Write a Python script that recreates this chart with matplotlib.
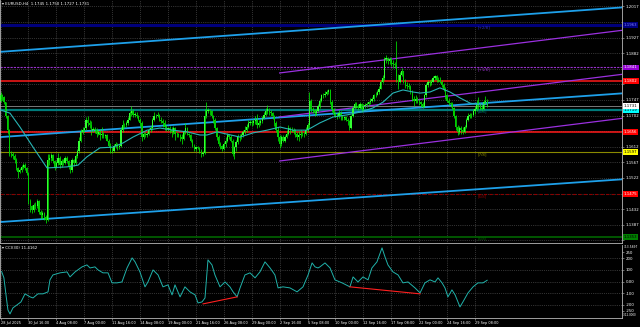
import numpy as np
import matplotlib.pyplot as plt
from matplotlib import transforms

# EURUSD H4, prices as pips: 1745 -> 1.1745
first_open = 1745
closes = [
    1760, 1755, 1740, 1700, 1660, 1590,  # 28 Jul
    1592, 1585, 1575, 1550, 1540, 1546,
    1555, 1560, 1550, 1535, 1455, 1440,
    1430, 1445, 1440, 1455, 1425, 1415,
    1420, 1410, 1400, 1575, 1580, 1587,  # 1 Aug
    1570, 1555, 1565, 1580, 1560, 1572,
    1565, 1580, 1570, 1555, 1545, 1575,
    1565, 1585, 1600, 1630, 1655, 1660,
    1665, 1690, 1680, 1675, 1660, 1663,
    1660, 1650, 1655, 1645, 1650, 1642,  # 8 Aug
    1645, 1630, 1615, 1605, 1600, 1615,
    1620, 1610, 1615, 1660, 1675, 1674,
    1680, 1690, 1710, 1715, 1705, 1705,
    1700, 1690, 1680, 1640, 1650, 1646,
    1650, 1660, 1665, 1690, 1700, 1700,  # 15 Aug
    1705, 1690, 1685, 1680, 1670, 1663,
    1665, 1660, 1655, 1665, 1650, 1649,
    1645, 1640, 1635, 1655, 1665, 1649,
    1645, 1630, 1615, 1605, 1610, 1609,
    1600, 1590, 1595, 1700, 1715, 1718,  # 22 Aug
    1715, 1700, 1690, 1665, 1640, 1620,
    1615, 1605, 1620, 1630, 1645, 1641,
    1630, 1590, 1610, 1625, 1640, 1640,
    1645, 1655, 1660, 1670, 1680, 1683,
    1680, 1685, 1690, 1675, 1680, 1686,  # 29 Aug
    1695, 1705, 1715, 1720, 1712, 1710,
    1700, 1680, 1660, 1640, 1620, 1640,
    1630, 1640, 1650, 1665, 1660, 1660,
    1655, 1650, 1640, 1645, 1650, 1648,
    1650, 1660, 1675, 1745, 1720, 1717,  # 5 Sep
    1710, 1715, 1730, 1745, 1760, 1761,
    1765, 1770, 1775, 1740, 1720, 1708,
    1705, 1700, 1710, 1700, 1695, 1697,
    1690, 1685, 1665, 1700, 1725, 1735,
    1730, 1725, 1735, 1720, 1730, 1733,  # 12 Sep
    1735, 1740, 1745, 1750, 1760, 1762,
    1770, 1780, 1800, 1810, 1865, 1867,
    1860, 1865, 1855, 1850, 1848, 1815,
    1800, 1820, 1830, 1800, 1790, 1786,
    1785, 1770, 1750, 1745, 1750, 1745,  # 19 Sep
    1740, 1735, 1728, 1760, 1790, 1800,
    1795, 1800, 1810, 1815, 1805, 1805,
    1800, 1790, 1780, 1760, 1745, 1738,
    1735, 1725, 1700, 1670, 1655, 1665,
    1660, 1655, 1670, 1690, 1700, 1703,  # 26 Sep
    1705, 1715, 1720, 1735, 1730, 1725,
    1720, 1740, 1745, 1731,
]
highs = [
    1771, 1765, 1758, 1742, 1705, 1662,
    1600, 1598, 1590, 1580, 1555, 1552,
    1560, 1566, 1565, 1555, 1540, 1462,
    1445, 1450, 1452, 1462, 1458, 1430,
    1428, 1425, 1415, 1590, 1592, 1595,
    1590, 1575, 1570, 1594, 1585, 1578,
    1578, 1585, 1584, 1575, 1562, 1580,
    1578, 1590, 1605, 1640, 1662, 1668,
    1670, 1698, 1700, 1688, 1685, 1670,
    1668, 1665, 1660, 1662, 1668, 1655,
    1650, 1648, 1635, 1622, 1612, 1620,
    1625, 1622, 1620, 1670, 1690, 1680,
    1685, 1698, 1715, 1730, 1722, 1712,
    1712, 1705, 1695, 1685, 1655, 1655,
    1655, 1665, 1672, 1695, 1712, 1706,
    1712, 1708, 1698, 1692, 1688, 1675,
    1670, 1672, 1668, 1672, 1668, 1655,
    1652, 1650, 1648, 1660, 1680, 1668,
    1652, 1650, 1635, 1620, 1615, 1615,
    1612, 1605, 1600, 1720, 1742, 1725,
    1722, 1718, 1705, 1695, 1670, 1645,
    1625, 1618, 1625, 1640, 1652, 1650,
    1645, 1635, 1615, 1632, 1648, 1648,
    1652, 1660, 1672, 1678, 1690, 1690,
    1690, 1692, 1700, 1708, 1690, 1692,
    1700, 1712, 1725, 1733, 1725, 1718,
    1712, 1705, 1685, 1668, 1645, 1645,
    1645, 1645, 1660, 1675, 1670, 1668,
    1665, 1662, 1655, 1658, 1660, 1655,
    1655, 1668, 1680, 1770, 1750, 1728,
    1722, 1722, 1735, 1752, 1765, 1768,
    1772, 1776, 1780, 1778, 1748, 1725,
    1712, 1710, 1718, 1715, 1705, 1702,
    1700, 1695, 1690, 1705, 1730, 1740,
    1740, 1735, 1741, 1738, 1735, 1738,
    1740, 1745, 1752, 1756, 1765, 1770,
    1775, 1788, 1805, 1820, 1872, 1878,
    1870, 1870, 1868, 1862, 1858, 1918,
    1822, 1828, 1840, 1832, 1808, 1798,
    1795, 1790, 1775, 1758, 1760, 1755,
    1750, 1745, 1740, 1765, 1795, 1805,
    1805, 1808, 1815, 1820, 1818, 1812,
    1812, 1805, 1795, 1785, 1765, 1752,
    1742, 1740, 1728, 1705, 1675, 1672,
    1672, 1668, 1675, 1695, 1710, 1710,
    1710, 1720, 1730, 1748, 1755, 1738,
    1735, 1748, 1758, 1750,
]
lows = [
    1742, 1748, 1735, 1695, 1650, 1585,
    1582, 1578, 1565, 1545, 1522, 1535,
    1540, 1548, 1545, 1530, 1448, 1425,
    1420, 1425, 1432, 1435, 1418, 1405,
    1405, 1400, 1391, 1398, 1560, 1570,
    1565, 1545, 1550, 1560, 1552, 1555,
    1560, 1562, 1565, 1548, 1536, 1540,
    1558, 1560, 1580, 1595, 1625, 1650,
    1655, 1660, 1672, 1665, 1645, 1655,
    1652, 1640, 1645, 1632, 1638, 1638,
    1638, 1628, 1610, 1595, 1594, 1598,
    1608, 1604, 1606, 1612, 1655, 1665,
    1668, 1675, 1688, 1700, 1698, 1698,
    1695, 1685, 1672, 1630, 1635, 1640,
    1640, 1645, 1655, 1660, 1685, 1695,
    1698, 1685, 1680, 1668, 1660, 1658,
    1658, 1652, 1640, 1650, 1632, 1640,
    1640, 1630, 1620, 1632, 1650, 1645,
    1640, 1625, 1610, 1600, 1600, 1605,
    1595, 1583, 1586, 1592, 1695, 1710,
    1705, 1695, 1680, 1660, 1632, 1615,
    1605, 1600, 1602, 1612, 1625, 1635,
    1625, 1585, 1577, 1600, 1620, 1630,
    1635, 1640, 1648, 1655, 1665, 1675,
    1672, 1675, 1678, 1665, 1668, 1675,
    1682, 1692, 1700, 1708, 1705, 1702,
    1692, 1672, 1655, 1630, 1609, 1615,
    1625, 1625, 1638, 1645, 1650, 1655,
    1650, 1640, 1632, 1630, 1638, 1642,
    1640, 1645, 1655, 1665, 1712, 1710,
    1700, 1705, 1712, 1725, 1740, 1752,
    1755, 1760, 1765, 1735, 1712, 1700,
    1698, 1692, 1695, 1690, 1688, 1690,
    1685, 1675, 1660, 1662, 1698, 1720,
    1725, 1718, 1720, 1712, 1715, 1725,
    1728, 1730, 1736, 1740, 1745, 1755,
    1760, 1765, 1778, 1795, 1805, 1855,
    1850, 1852, 1845, 1840, 1838, 1800,
    1778, 1795, 1815, 1795, 1782, 1780,
    1778, 1765, 1745, 1730, 1738, 1738,
    1732, 1728, 1725, 1726, 1755, 1785,
    1788, 1790, 1798, 1805, 1798, 1800,
    1795, 1785, 1772, 1750, 1740, 1732,
    1728, 1720, 1695, 1660, 1646, 1650,
    1650, 1648, 1652, 1665, 1685, 1695,
    1695, 1700, 1708, 1715, 1722, 1718,
    1715, 1718, 1735, 1727,
]

# moving average (bar index, price)
ma_bar = [0, 5.4, 11.1, 18.6, 26.6, 38.1, 44.4, 49.5, 57, 64.5, 70.2, 75.9, 84, 91.4, 98.9,
          106.9, 114.3, 118.3, 124.1, 137.3, 144.7, 152.8, 160.2, 167.7, 175.7, 183.1,
          190.6, 198.6, 206.1, 213.5, 219.3, 225, 230.7, 236.5, 240.5, 246.2, 251.9,
          257.7, 263.4, 269.2, 274.9, 279]
ma_price = [1.1718, 1.1709, 1.1669, 1.1611, 1.1551, 1.1554, 1.1559, 1.1583, 1.1609, 1.1611,
            1.1623, 1.1640, 1.1660, 1.1666, 1.1660, 1.1655, 1.1646, 1.1646, 1.1655, 1.1640,
            1.1652, 1.1660, 1.1669, 1.1660, 1.1660, 1.1681, 1.1698, 1.1704, 1.1712, 1.1724,
            1.1741, 1.1767, 1.1776, 1.1770, 1.1767, 1.1770, 1.1782, 1.1770, 1.1753, 1.1738,
            1.1733, 1.1735]

# CCI(30)
cci_bar = [0.6, 1.9, 3.1, 4.2, 5.4, 7.1, 9.4, 11.7, 14, 16.9, 18.6, 21.4, 24.3, 27.2, 28.3,
           30, 34.1, 38.1, 39.8, 42.7, 46.7, 49.5, 51.3, 54.1, 55.9, 58.7, 61.6, 63.9, 66.7,
           69.6, 72.5, 75.4, 77.1, 79.9, 82.8, 84.5, 87.4, 90.3, 93.1, 96, 98.3, 100, 102.9,
           105.7, 108.6, 111.5, 113.2, 115.5, 117.2, 118.9, 121.2, 122.9, 125.8, 128.7,
           131.5, 133.3, 135.6, 137.3, 140.1, 143, 145.9, 148.7, 151.6, 154.5, 157.3, 159.1,
           161.9, 165.9, 170, 173.4, 176.3, 178.6, 180.3, 182, 183.1, 186, 188.9, 191.7,
           195.8, 200.3, 202.1, 204.9, 207.8, 210.7, 212.9, 215.8, 218.7, 220.4, 222.1, 225,
           227.9, 230.7, 233.6, 237.6, 240.5, 243.3, 246.2, 249.1, 250.8, 253.1, 254.8,
           256.5, 258.8, 260.6, 263.4, 265.1, 268, 270.9, 273.7, 276.6, 279]
cci_val = [86, 32, -114, -243, -277, -225, -200, -174, -105, -131, -140, -105, -105, -88, 15,
           57, 75, 83, 40, 83, 126, 143, 117, 126, 100, 75, 75, -11, -11,
           -3, 117, 203, 169, 83, -45, -3, 100, 57, -45, -28, -114, -28, -131,
           -45, -88, -114, -183, -174, -140, 186, 143, 57, -45, -3,
           -45, -88, -131, -54, 57, 75, 32, 83, 169, 117, 57, -54,
           -45, -54, -88, -45, 57, 160, 126, 117, 126, 160, 117, 15,
           -11, -45, 40, -3, 40, 15, 117, 169, 289, 212, 143, 83,
           57, -11, -3, -54, -97, -11, 15, -3, 32, -11, -54,
           -131, -71, -114, -217, -174, -97, -45, -11, -11, 11.4162]
cci_div = [([116.1, 135.6], [-191, -131]), ([200.3, 240.5], [-45, -105])]

# trend channels: (bar, price) pairs
blue_lines = [((0, 1.1886), (356, 1.2014)),
              ((0, 1.1640), (356, 1.1766)),
              ((0, 1.1395), (356, 1.1518))]
purple_lines = [((160, 1.1825), (356.3, 1.1948)),
                ((160, 1.1698), (356.3, 1.1821)),
                ((160, 1.1571), (356.3, 1.1694))]

# Murrey math levels
mm_levels = [1.19629, 1.18408, 1.17188, 1.15967, 1.14746, 1.13525]
mm_names = ["[+2/8]", "[+1/8]", "[8/8]", "[7/8]", "[6/8]", "[5/8]"]
mm_colors = ["#00007a", "#9932cc", "#007b7b", "#8a8a00", "#8b0000", "#006400"]
mm_styles = ["-", (0, (2, 1)), "-", "-", (0, (3, 2)), "-"]
mm_widths = [2.2, 0.8, 1.6, 0.8, 0.8, 1.2]
mm_box = ["#000080", "#9400d3", "#00ffff", "#ffff00", "#ff0000", "#008000"]
mm_boxtext = ["#8080ff", "white", "black", "black", "white", "black"]

red_levels = [1.1802, 1.1656]

price_ticks = [1.2017, 1.1972, 1.1927, 1.1882, 1.1837, 1.1792, 1.1747, 1.1702, 1.1657,
               1.1612, 1.1567, 1.1522, 1.1477, 1.1432, 1.1387, 1.1342]
date_bars = [0, 16, 32, 48, 64, 80, 96, 112, 128, 144, 160, 176, 192, 208, 224, 240, 256, 272]
date_labels = ["28 Jul 2025", "30 Jul 16:00", "4 Aug 08:00", "7 Aug 00:00", "11 Aug 16:00",
               "14 Aug 08:00", "19 Aug 00:00", "21 Aug 16:00", "26 Aug 08:00", "29 Aug 00:00",
               "2 Sep 16:00", "5 Sep 08:00", "10 Sep 00:00", "12 Sep 16:00", "17 Sep 08:00",
               "22 Sep 00:00", "24 Sep 16:00", "29 Sep 08:00"]
cci_ticks = [250, 200, 100, 0, -100, -200, -250]
cci_tick_labels = ["250", "200", "100", "0.00", "-100", "-200", "-250"]
cci_min, cci_max = -312.0, 313.5897

c = 1 + np.array(closes) / 1e4
o = 1 + np.array([first_open] + closes[:-1]) / 1e4
h = 1 + np.array(highs) / 1e4
l = 1 + np.array(lows) / 1e4
idx = np.arange(len(c))

BG = "black"
GRID = "#7a7a7a"
FS = 2.8
W, H = 640, 327
xmin, xmax = -0.34, 356.3

fig = plt.figure(figsize=(6.4, 3.27), dpi=100, facecolor=BG)
ax = fig.add_axes([0, 1 - 243 / H, 622 / W, 243 / H], facecolor=BG)
ax2 = fig.add_axes([0, 1 - 318 / H, 622 / W, 73 / H], facecolor=BG)

for a in (ax, ax2):
    a.set_xlim(xmin, xmax)
    for s in a.spines.values():
        s.set_color("#b8b8b8")
        s.set_linewidth(0.6)
    a.spines["top"].set_visible(False)
    a.yaxis.tick_right()
    a.tick_params(colors="#b8b8b8", labelcolor="white", labelsize=FS, length=1.5, width=0.4, pad=1)
    a.set_xticks(date_bars)
    a.grid(True, color=GRID, ls=(0, (1, 2)), lw=0.45)
    a.set_axisbelow(True)

# right-side boxes hide the tick labels under them
box_levels = mm_levels + red_levels + [c[-1]]
shown = [p for p in price_ticks if min(abs(p - b) for b in box_levels) > 0.0012]

ax.set_ylim(1.13344, 1.20355)
ax.set_yticks(price_ticks)
ax.set_yticklabels([f"{p:.4f}" if p in shown else "" for p in price_ticks])
ax.tick_params(axis="x", length=0, labelbottom=False)

# horizontal levels
for lev, col, st, lw_ in zip(mm_levels, mm_colors, mm_styles, mm_widths):
    ax.axhline(lev, color=col, ls=st, lw=lw_, zorder=1)
for lev in red_levels:
    ax.axhline(lev, color="#ff1a1a", lw=1.1, zorder=1)
ax.axhline(c[-1], color="#8c8c8c", lw=0.6, zorder=1)

# channels
for p1, p2 in blue_lines:
    ax.axline(p1, p2, color="#1ea0ea", lw=1.3, zorder=2)
for p1, p2 in purple_lines:
    ax.plot([p1[0], p2[0]], [p1[1], p2[1]], color="#9b30e0", lw=0.9, zorder=2)

# candles
up = c >= o
ax.vlines(idx, l, h, color="#00ff00", lw=0.5, zorder=3)
ax.bar(idx, np.maximum(np.abs(c - o), 0.00008), bottom=np.minimum(o, c), width=0.75,
       color=np.where(up, "#33ff33", "#00cc00"), lw=0, zorder=3)

ax.plot(ma_bar, ma_price, color="#27b5b5", lw=0.8, zorder=4)

for lev, name, col in zip(mm_levels, mm_names, mm_colors):
    ax.text(273.5, lev, name, color=col if col != "#00007a" else "#3030c0", fontsize=FS,
            va="top", ha="left", zorder=5)

# right-side price boxes
trans = transforms.blended_transform_factory(ax.transAxes, ax.transData)
boxes = list(zip(mm_levels, mm_box, mm_boxtext))
boxes += [(lev, "#ff0000", "white") for lev in red_levels]
boxes += [(c[-1], "white", "black")]
for lev, fc, tc in boxes:
    ax.text(1.003, lev, f"{lev:.4f}", transform=trans, fontsize=FS, color=tc, va="center",
            ha="left", clip_on=False, zorder=6,
            bbox=dict(boxstyle="square,pad=0.25", fc=fc, ec="none"))

ax.text(0.004, 0.993, "\u25be EURUSD,H4  " + " ".join(f"{v:.4f}" for v in (o[-1], h[-1], l[-1], c[-1])),
        transform=ax.transAxes, color="white", fontsize=FS, va="top", ha="left")

# CCI panel
ax2.set_ylim(cci_min, cci_max)
ax2.set_yticks(cci_ticks)
ax2.set_yticklabels(cci_tick_labels)
ax2.yaxis.grid(False)
trans2 = transforms.blended_transform_factory(ax2.transAxes, ax2.transData)
ax2.text(1.003, cci_max, f"{cci_max:.4f}", transform=trans2, fontsize=2.2, color="white",
         va="top", ha="left", clip_on=False)
ax2.text(1.002, cci_min + 8, f"{cci_min:.4f}", transform=trans2, fontsize=2.0, color="white",
         va="bottom", ha="left", clip_on=False)
for v in (200, 100, 0, -100, -200):
    ax2.axhline(v, color=GRID, ls=(0, (1, 2)), lw=0.45, zorder=0)
ax2.plot(cci_bar, cci_val, color="#20b2aa", lw=0.7)
for xs, ys in cci_div:
    ax2.plot(xs, ys, color="#ff2020", lw=0.8)
ax2.set_xticklabels(date_labels, ha="left")
ax2.tick_params(axis="x", length=1.5, labelsize=2.5, pad=1)
ax2.text(0.004, 0.985, f"\u25be CCI(30) {cci_val[-1]:.4f}", transform=ax2.transAxes,
         color="white", fontsize=FS, va="top", ha="left")

fig.savefig("out.png", dpi=100, facecolor=BG)
